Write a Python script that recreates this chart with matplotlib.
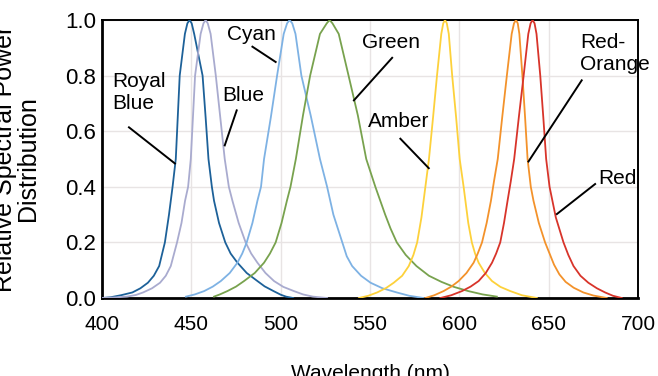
import matplotlib
matplotlib.use("Agg")
import matplotlib.pyplot as plt

plt.rcParams['font.family'] = ['Liberation Sans', 'DejaVu Sans']

# wavelength (nm) / relative power
royal_wl = [400, 405, 410.6, 417, 421.5, 425.7, 429, 432, 435.2, 437.5, 439.5, 441.3, 442.4,
            443.5, 446.4, 447.8, 449, 450.2, 451.6, 456.3, 458, 459.6, 461.5, 462.7, 465.5,
            469, 472, 475.8, 481, 487, 491, 496, 500, 503, 507]
royal_pw = [0, 0.003, 0.01, 0.02, 0.035, 0.055, 0.08, 0.115, 0.2, 0.3, 0.4, 0.5, 0.65,
            0.8, 0.95, 0.988, 1.0, 0.988, 0.95, 0.8, 0.65, 0.5, 0.4, 0.35, 0.27,
            0.2, 0.16, 0.127, 0.09, 0.061, 0.042, 0.025, 0.012, 0.005, 0]

blue_wl = [400, 407, 414, 419, 423, 428, 432.5, 435.7, 438.5, 442, 444.5, 446.5, 448.2,
           449.7, 450.9, 452.1, 455.2, 456.8, 458, 459.2, 460.8, 463.7, 466.2, 468.7, 471,
           473, 476.5, 480.4, 483.5, 487, 491.5, 496.3, 501.5, 507.4, 512.5, 518, 526]
blue_pw = [0, 0.002, 0.005, 0.011, 0.02, 0.035, 0.055, 0.08, 0.115, 0.2, 0.27, 0.35, 0.4,
           0.5, 0.65, 0.8, 0.95, 0.988, 1.0, 0.988, 0.95, 0.8, 0.65, 0.5, 0.4,
           0.35, 0.27, 0.2, 0.16, 0.127, 0.09, 0.061, 0.04, 0.025, 0.013, 0.005, 0]

cyan_wl = [447, 452, 457.2, 462, 466.5, 471.5, 475.8, 478.5, 481, 484.2, 487, 489, 490.7,
           494.5, 498, 501.7, 503.6, 505, 506.5, 508.3, 511.6, 516.8, 522, 526, 529.5,
           534.5, 537, 540, 545, 550.3, 557, 565, 572, 580]
cyan_pw = [0.005, 0.013, 0.025, 0.041, 0.061, 0.09, 0.127, 0.16, 0.2, 0.27, 0.35, 0.4, 0.5,
           0.65, 0.8, 0.95, 0.988, 1.0, 0.988, 0.95, 0.8, 0.657, 0.5, 0.4, 0.3,
           0.2, 0.15, 0.115, 0.08, 0.055, 0.035, 0.02, 0.008, 0]

green_wl = [462.7, 466, 470.2, 475, 479.5, 485.5, 490.7, 494, 497.2, 500.5, 503.5, 505.5,
            508.5, 512.5, 516.5, 522, 525.8, 527.4, 529, 532.5, 538, 543.2, 547.9, 553,
            558.5, 561.5, 565, 570, 576, 583, 590, 597, 605, 613, 621]
green_pw = [0.005, 0.013, 0.025, 0.041, 0.061, 0.09, 0.127, 0.16, 0.2, 0.27, 0.35, 0.4,
            0.5, 0.657, 0.8, 0.95, 0.988, 1.0, 0.988, 0.95, 0.8, 0.657, 0.5, 0.4,
            0.3, 0.25, 0.2, 0.155, 0.115, 0.08, 0.058, 0.04, 0.025, 0.013, 0.005]

amber_wl = [543.8, 549, 554, 559, 563.3, 568, 571.7, 574.3, 576.4, 578.8, 581.0, 583.0,
            585.3, 587.5, 589.9, 591, 592, 593, 594.1, 596, 598.2, 600.2, 602.4, 603.4,
            605, 607, 608.8, 610.8, 614.3, 618.3, 623, 628.5, 635, 643.4]
amber_pw = [0, 0.008, 0.02, 0.036, 0.055, 0.08, 0.115, 0.155, 0.2, 0.29, 0.4, 0.5,
            0.65, 0.8, 0.95, 0.988, 1.0, 0.988, 0.95, 0.8, 0.65, 0.5, 0.4, 0.35,
            0.27, 0.2, 0.16, 0.127, 0.09, 0.061, 0.04, 0.025, 0.01, 0]

orange_wl = [581, 586, 591.2, 595.5, 599.6, 604, 608, 610.3, 612.7, 615.3, 617.7, 619.4,
             621.5, 624, 626.6, 629.3, 630.6, 631.7, 632.7, 633.6, 635.3, 636.8, 638.2, 640,
             641.5, 644.5, 648, 650.5, 653, 656, 659.5, 664, 669.4, 675, 682.5]
orange_pw = [0, 0.01, 0.025, 0.041, 0.061, 0.09, 0.127, 0.16, 0.2, 0.27, 0.35, 0.42,
             0.5, 0.65, 0.8, 0.95, 0.988, 1.0, 0.988, 0.95, 0.8, 0.65, 0.5, 0.4,
             0.35, 0.27, 0.2, 0.16, 0.12, 0.085, 0.058, 0.037, 0.02, 0.009, 0]

red_wl = [589.4, 595.5, 601.5, 606.3, 610.8, 614.8, 618.3, 620.6, 622.9, 625, 627, 628.8,
          630.7, 633.3, 636, 638.6, 639.9, 641, 642.1, 643.2, 645.3, 647, 648.6, 650.5,
          654, 658.3, 661, 663.9, 667.8, 672.2, 677, 681.6, 686, 690.9]
red_pw = [0, 0.01, 0.025, 0.041, 0.061, 0.09, 0.127, 0.16, 0.2, 0.27, 0.35, 0.42,
          0.5, 0.65, 0.8, 0.95, 0.988, 1.0, 0.988, 0.95, 0.8, 0.65, 0.5, 0.4,
          0.29, 0.2, 0.155, 0.115, 0.08, 0.055, 0.035, 0.02, 0.008, 0]

series = [
    (royal_wl, royal_pw, '#1d6199'),
    (blue_wl, blue_pw, '#a9abcf'),
    (cyan_wl, cyan_pw, '#7eb2e4'),
    (green_wl, green_pw, '#78a24e'),
    (amber_wl, amber_pw, '#fdd13b'),
    (orange_wl, orange_pw, '#f3922b'),
    (red_wl, red_pw, '#d8342a'),
]

# label text, text anchor (data units), leader line start -> end
labels = [
    ("Royal\nBlue", 405.6, 0.74, 'left', (415.1, 0.614), (440.8, 0.484)),
    ("Blue", 479.3, 0.729, 'center', (475.4, 0.675), (468.7, 0.549)),
    ("Cyan", 483.8, 0.949, 'center', (484.2, 0.904), (497.2, 0.849)),
    ("Green", 561.5, 0.92, 'center', (562.4, 0.864), (541.0, 0.711)),
    ("Amber", 566.2, 0.635, 'center', (567.0, 0.573), (582.9, 0.467)),
    ("Red-\nOrange", 667.6, 0.88, 'left', (668.5, 0.783), (638.7, 0.491)),
    ("Red", 677.7, 0.43, 'left', (676.0, 0.41), (654.6, 0.302)),
]

fig = plt.figure(figsize=(6.58, 3.76), dpi=100)
ax = fig.add_axes([0.155, 0.2074, 0.8146, 0.7394])

for wl, pw, col in series:
    ax.plot(wl, pw, color=col, lw=1.3, zorder=3, solid_joinstyle='round')

for txt, tx, ty, ha, p0, p1 in labels:
    ax.text(tx, ty, txt, ha=ha, va='center', fontsize=15, linespacing=1.2, zorder=5)
    ax.plot([p0[0], p1[0]], [p0[1], p1[1]], color='black', lw=1.4, zorder=4)

ax.set_xlim(400, 700)
ax.set_ylim(0, 1.0)
ax.set_xticks([400, 450, 500, 550, 600, 650, 700])
ax.set_yticks([0, 0.2, 0.4, 0.6, 0.8, 1.0])
ax.set_yticklabels(['0.0', '0.2', '0.4', '0.6', '0.8', '1.0'])
ax.tick_params(axis='x', length=0, labelsize=15, pad=12)
ax.tick_params(axis='y', length=0, labelsize=16, pad=4)
ax.grid(True, color='#e8e4e4', lw=1.0, zorder=0)
ax.set_axisbelow(True)

for side in ['left', 'bottom']:
    ax.spines[side].set_linewidth(2.0)
for side in ['top', 'right']:
    ax.spines[side].set_linewidth(1.4)
for s in ax.spines.values():
    s.set_color('black')

ax.set_xlabel('Wavelength (nm)', fontsize=15, labelpad=22)
ax.set_ylabel('Relative Spectral Power\nDistribution', fontsize=18, linespacing=0.95,
              va='center', ha='center')
ax.yaxis.set_label_coords(-0.159, 0.5)

fig.savefig('out.png', dpi=100)
